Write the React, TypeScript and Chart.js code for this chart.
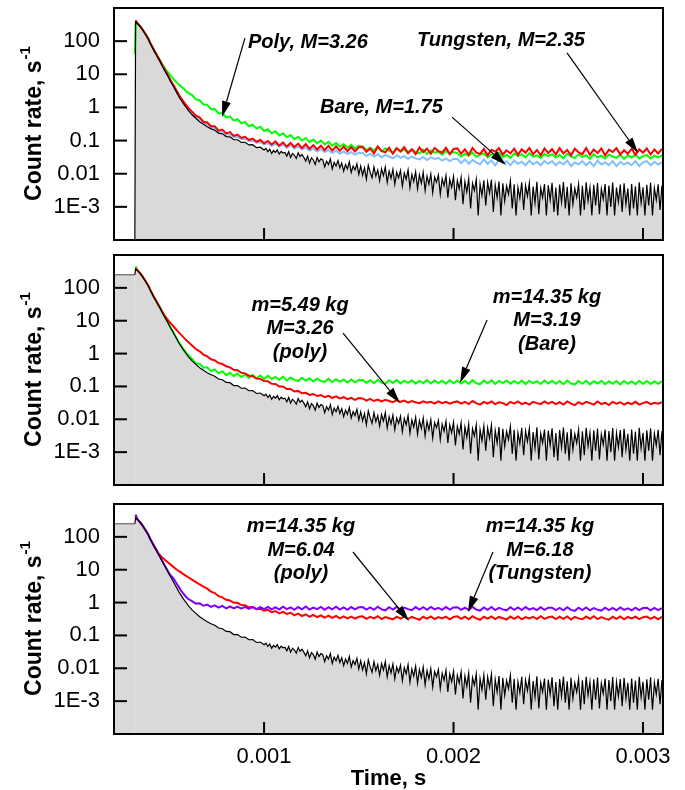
import React, { useEffect, useRef } from 'react';
import { Chart, registerables } from 'chart.js';

Chart.register(...registerables);

const FONT = '"Liberation Sans", Arial, Helvetica, sans-serif';
Chart.defaults.font.family = FONT;

// ---------- data (time in microseconds, count rate in 1/s) ----------
const TIME_US = [
  318, 322, 330, 340, 350, 360, 370, 380, 390, 400, 410, 420, 430, 440, 450, 460, 470, 480, 490, 500, 510, 520, 530, 540, 550, 560, 570, 580, 590, 600,
  620, 640, 660, 680, 700, 720, 740, 760, 780, 800, 820, 840, 860, 880, 900, 920, 940, 960, 980, 1000,
  1020, 1040, 1060, 1080, 1100, 1120, 1140, 1160, 1180, 1200, 1220, 1240, 1260, 1280, 1300, 1320, 1340, 1360, 1380, 1400, 1420, 1440, 1460, 1480, 1500,
  1520, 1540, 1560, 1580, 1600, 1620, 1640, 1660, 1680, 1700, 1720, 1740, 1760, 1780, 1800, 1820, 1840, 1860, 1880, 1900, 1920, 1940, 1960, 1980, 2000,
  2020, 2040, 2060, 2080, 2100, 2120, 2140, 2160, 2180, 2200, 2220, 2240, 2260, 2280, 2300, 2320, 2340, 2360, 2380, 2400, 2420, 2440, 2460, 2480, 2500,
  2520, 2540, 2560, 2580, 2600, 2620, 2640, 2660, 2680, 2700, 2720, 2740, 2760, 2780, 2800, 2820, 2840, 2860, 2880, 2900, 2920, 2940, 2960, 2980, 3000,
  3020, 3040, 3060, 3080, 3100,
];

// background measurement has a finer time grid in its noisy tail
const BG_TIME_US = [
  318, 322, 330, 340, 350, 360, 370, 380, 390, 400, 410, 420, 430, 440, 450, 460, 470, 480, 490, 500, 510, 520, 530, 540, 550, 560, 570, 580, 590, 600,
  620, 640, 660, 680, 700, 720, 740, 760, 780, 800, 820, 840, 860, 880, 900, 920, 940, 960, 980, 1000,
  1010, 1020, 1030, 1040, 1050, 1060, 1070, 1080, 1090, 1100,
  1110, 1120, 1130, 1140, 1150, 1160, 1170, 1180, 1190, 1200,
  1210, 1220, 1230, 1240, 1250, 1260, 1270, 1280, 1290, 1300,
  1310, 1320, 1330, 1340, 1350, 1360, 1370, 1380, 1390, 1400,
  1410, 1420, 1430, 1440, 1450, 1460, 1470, 1480, 1490, 1500,
  1510, 1520, 1530, 1540, 1550, 1560, 1570, 1580, 1590, 1600,
  1610, 1620, 1630, 1640, 1650, 1660, 1670, 1680, 1690, 1700,
  1710, 1720, 1730, 1740, 1750, 1760, 1770, 1780, 1790, 1800,
  1810, 1820, 1830, 1840, 1850, 1860, 1870, 1880, 1890, 1900,
  1910, 1920, 1930, 1940, 1950, 1960, 1970, 1980, 1990, 2000,
  2010, 2020, 2030, 2040, 2050, 2060, 2070, 2080, 2090, 2100,
  2110, 2120, 2130, 2140, 2150, 2160, 2170, 2180, 2190, 2200,
  2210, 2220, 2230, 2240, 2250, 2260, 2270, 2280, 2290, 2300,
  2310, 2320, 2330, 2340, 2350, 2360, 2370, 2380, 2390, 2400,
  2410, 2420, 2430, 2440, 2450, 2460, 2470, 2480, 2490, 2500,
  2510, 2520, 2530, 2540, 2550, 2560, 2570, 2580, 2590, 2600,
  2610, 2620, 2630, 2640, 2650, 2660, 2670, 2680, 2690, 2700,
  2710, 2720, 2730, 2740, 2750, 2760, 2770, 2780, 2790, 2800,
  2810, 2820, 2830, 2840, 2850, 2860, 2870, 2880, 2890, 2900,
  2910, 2920, 2930, 2940, 2950, 2960, 2970, 2980, 2990, 3000,
  3010, 3020, 3030, 3040, 3050, 3060, 3070, 3080, 3090, 3100,
];

// reference (background) measurement, black curve with grey area
const BACKGROUND = [
  250, 380, 347, 302, 257, 214, 174, 141, 112, 83, 65, 50, 40, 31, 25, 19, 15, 11.7, 9.3, 7.2, 5.6, 4.5, 3.5, 2.75, 2.14, 1.74, 1.41, 1.17, 0.98, 0.81,
  0.60, 0.47, 0.37, 0.31, 0.262, 0.226, 0.204, 0.168, 0.16, 0.132, 0.13, 0.106, 0.106, 0.088, 0.089, 0.074, 0.075, 0.061, 0.063, 0.052,
  0.058, 0.046, 0.055, 0.041, 0.05, 0.044, 0.052, 0.039, 0.047, 0.042,
  0.044, 0.034, 0.046, 0.031, 0.041, 0.036, 0.029, 0.043, 0.033, 0.038,
  0.031, 0.024, 0.034, 0.021, 0.03, 0.026, 0.019, 0.031, 0.023, 0.028,
  0.026, 0.016, 0.024, 0.019, 0.028, 0.014, 0.022, 0.017, 0.025, 0.015,
  0.021, 0.012, 0.019, 0.014, 0.023, 0.011, 0.017, 0.013, 0.02, 0.0095,
  0.017, 0.009, 0.015, 0.0068, 0.018, 0.011, 0.0075, 0.016, 0.0085, 0.013,
  0.0062, 0.014, 0.0088, 0.016, 0.0055, 0.012, 0.0072, 0.0135, 0.0048, 0.011,
  0.0075, 0.0125, 0.0042, 0.0105, 0.0068, 0.013, 0.0038, 0.0095, 0.0058, 0.0115,
  0.0035, 0.0092, 0.0052, 0.011, 0.0031, 0.0085, 0.0048, 0.0098, 0.0027, 0.0079,
  0.0055, 0.0092, 0.0024, 0.0071, 0.0043, 0.0088, 0.0019, 0.0068, 0.0039, 0.0082,
  0.0016, 0.0062, 0.0035, 0.0078, 0.0012, 0.0058, 0.0028, 0.0071, 0.0009, 0.0052,
  0.0031, 0.0068, 0.00055, 0.0049, 0.0022, 0.0063, 0.0011, 0.0055, 0.0026, 0.0066,
  0.0007, 0.0046, 0.0019, 0.0058, 0.00055, 0.0051, 0.0015, 0.0043, 0.0024, 0.0061,
  0.0009, 0.0048, 0.00055, 0.0039, 0.0018, 0.0055, 0.0008, 0.0044, 0.0021, 0.0052,
  0.00055, 0.0041, 0.0013, 0.0057, 0.0006, 0.0037, 0.0019, 0.0049, 0.00055, 0.0045,
  0.0016, 0.0053, 0.0007, 0.0038, 0.00055, 0.0047, 0.0014, 0.0056, 0.0009, 0.004,
  0.00055, 0.0051, 0.0012, 0.0036, 0.0019, 0.0048, 0.00055, 0.0043, 0.0008, 0.0055,
  0.0015, 0.0039, 0.00055, 0.0046, 0.0011, 0.0052, 0.0006, 0.0035, 0.0017, 0.0049,
  0.00055, 0.0044, 0.001, 0.0054, 0.00055, 0.0038, 0.0014, 0.0047, 0.0007, 0.0051,
  0.0012, 0.0036, 0.00055, 0.0049, 0.0009, 0.0042, 0.00055, 0.0055, 0.0013, 0.0039,
  0.00055, 0.0046, 0.0011, 0.0053, 0.00055, 0.0037, 0.0016, 0.0048, 0.0008, 0.0044,
];

// panel 1
const P1_TUNGSTEN = [
  null, 430, 360, 310, 265, 220, 180, 146, 116, 87, 68, 53, 42, 33, 26, 20, 16, 12.5, 10, 7.8, 6.1, 4.9, 3.9, 3.1, 2.45, 2.0, 1.65, 1.38, 1.15, 0.97,
  0.75, 0.56, 0.5, 0.37, 0.35, 0.27, 0.27, 0.2, 0.215, 0.165, 0.18, 0.138, 0.152, 0.12, 0.13, 0.104, 0.115, 0.092, 0.104, 0.083,
  0.097, 0.076, 0.094, 0.07, 0.088, 0.066, 0.085, 0.064, 0.081, 0.059, 0.078, 0.056, 0.073, 0.054, 0.07, 0.051, 0.069, 0.05, 0.067, 0.049, 0.066, 0.048, 0.064, 0.047, 0.063,
  0.064, 0.046, 0.058, 0.041, 0.066, 0.049, 0.044, 0.061, 0.04, 0.059, 0.047, 0.063, 0.042, 0.055, 0.039, 0.062, 0.045, 0.057, 0.04, 0.06, 0.048, 0.043, 0.061, 0.039, 0.056,
  0.058, 0.04, 0.054, 0.037, 0.06, 0.044, 0.039, 0.056, 0.036, 0.053, 0.046, 0.059, 0.038, 0.051, 0.041, 0.057, 0.037, 0.055, 0.043, 0.06, 0.039, 0.052, 0.036, 0.058, 0.042,
  0.055, 0.038, 0.059, 0.041, 0.052, 0.036, 0.057, 0.044, 0.039, 0.06, 0.037, 0.054, 0.042, 0.058, 0.036, 0.053, 0.045, 0.059, 0.038, 0.051, 0.04, 0.057, 0.037, 0.055, 0.043,
  0.058, 0.038, 0.054, 0.041, 0.056,
];
const P1_POLY = [
  40, 330, 350, 305, 260, 217, 177, 143, 114, 86, 67, 52, 42, 33, 27, 21.5, 17.5, 14.3, 12, 10.2, 8.7, 7.4, 6.4, 5.6, 4.9, 4.4, 3.9, 3.45, 3.05, 2.75,
  2.35, 1.75, 1.65, 1.22, 1.2, 0.88, 0.9, 0.66, 0.68, 0.5, 0.54, 0.4, 0.44, 0.33, 0.36, 0.27, 0.3, 0.23, 0.26, 0.195,
  0.22, 0.165, 0.19, 0.142, 0.165, 0.126, 0.148, 0.11, 0.131, 0.1, 0.12, 0.09, 0.108, 0.083, 0.1, 0.076, 0.092, 0.07, 0.085, 0.065, 0.079, 0.061, 0.074, 0.057, 0.07,
  0.067, 0.052, 0.061, 0.05, 0.065, 0.047, 0.058, 0.049, 0.044, 0.059, 0.046, 0.055, 0.042, 0.054, 0.045, 0.041, 0.053, 0.039, 0.05, 0.043, 0.047, 0.037, 0.049, 0.04, 0.045,
  0.042, 0.033, 0.04, 0.035, 0.044, 0.032, 0.038, 0.041, 0.031, 0.039, 0.034, 0.043, 0.032, 0.037, 0.03, 0.041, 0.034, 0.039, 0.031, 0.042, 0.033, 0.036, 0.03, 0.04, 0.034,
  0.039, 0.031, 0.037, 0.029, 0.04, 0.033, 0.03, 0.038, 0.032, 0.036, 0.028, 0.039, 0.031, 0.035, 0.029, 0.038, 0.033, 0.03, 0.037, 0.028, 0.036, 0.031, 0.038, 0.029, 0.034,
  0.037, 0.029, 0.035, 0.031, 0.036,
];
const P1_BARE = [
  null, 390, 350, 305, 260, 216, 176, 143, 114, 85, 66, 51, 41, 32, 25.5, 19.5, 15.4, 12, 9.6, 7.5, 5.9, 4.7, 3.7, 2.95, 2.3, 1.88, 1.55, 1.28, 1.07, 0.9,
  0.69, 0.52, 0.45, 0.35, 0.31, 0.25, 0.235, 0.19, 0.188, 0.153, 0.152, 0.129, 0.13, 0.111, 0.112, 0.097, 0.099, 0.086, 0.089, 0.077,
  0.083, 0.069, 0.079, 0.066, 0.076, 0.061, 0.071, 0.057, 0.066, 0.054, 0.062, 0.05, 0.058, 0.047, 0.055, 0.045, 0.052, 0.042, 0.05, 0.04, 0.047, 0.039, 0.045, 0.037, 0.043,
  0.042, 0.034, 0.04, 0.033, 0.039, 0.031, 0.037, 0.033, 0.029, 0.036, 0.03, 0.034, 0.028, 0.033, 0.029, 0.027, 0.032, 0.026, 0.031, 0.028, 0.03, 0.025, 0.029, 0.024, 0.028,
  0.028, 0.021, 0.027, 0.02, 0.026, 0.022, 0.019, 0.027, 0.02, 0.025, 0.018, 0.026, 0.021, 0.024, 0.018, 0.025, 0.02, 0.023, 0.018, 0.025, 0.019, 0.023, 0.018, 0.024, 0.02,
  0.024, 0.018, 0.023, 0.019, 0.025, 0.017, 0.022, 0.019, 0.024, 0.018, 0.023, 0.017, 0.025, 0.019, 0.022, 0.018, 0.024, 0.017, 0.023, 0.019, 0.022, 0.018, 0.024, 0.017, 0.022,
  0.024, 0.018, 0.023, 0.019, 0.022,
];

// panel 2
const P2_POLY = [
  null, 400, 350, 305, 260, 216, 176, 143, 114, 85, 66, 51, 41, 32, 25.5, 20, 16, 13, 11, 9.3, 8, 6.9, 5.9, 5.1, 4.4, 3.85, 3.35, 2.9, 2.55, 2.25,
  1.77, 1.38, 1.17, 0.93, 0.82, 0.67, 0.62, 0.51, 0.48, 0.41, 0.38, 0.32, 0.31, 0.26, 0.25, 0.212, 0.205, 0.174, 0.17, 0.145,
  0.143, 0.12, 0.119, 0.099, 0.1, 0.083, 0.084, 0.07, 0.073, 0.062, 0.064, 0.055, 0.059, 0.051, 0.055, 0.047, 0.052, 0.045, 0.05, 0.043, 0.047, 0.041, 0.045, 0.039, 0.044,
  0.043, 0.037, 0.042, 0.036, 0.04, 0.035, 0.039, 0.036, 0.033, 0.038, 0.034, 0.037, 0.032, 0.036, 0.033, 0.031, 0.035, 0.032, 0.034, 0.03, 0.035, 0.031, 0.034, 0.03, 0.033,
  0.035, 0.03, 0.034, 0.029, 0.036, 0.031, 0.028, 0.034, 0.03, 0.035, 0.029, 0.033, 0.031, 0.027, 0.034, 0.03, 0.035, 0.029, 0.032, 0.028, 0.034, 0.031, 0.029, 0.035, 0.03,
  0.034, 0.029, 0.033, 0.028, 0.035, 0.03, 0.027, 0.033, 0.029, 0.034, 0.031, 0.028, 0.035, 0.029, 0.032, 0.027, 0.034, 0.03, 0.033, 0.028, 0.032, 0.029, 0.034, 0.028, 0.031,
  0.034, 0.029, 0.032, 0.03, 0.033,
];
const P2_BARE = [
  null, 460, 352, 304, 258, 215, 175, 142, 113, 84, 65.5, 50.5, 40.5, 31.5, 25.2, 19.3, 15.2, 11.9, 9.4, 7.3, 5.7, 4.55, 3.55, 2.8, 2.2, 1.8, 1.5, 1.25, 1.05, 0.9,
  0.7, 0.5, 0.49, 0.37, 0.38, 0.29, 0.33, 0.25, 0.29, 0.22, 0.26, 0.205, 0.245, 0.19, 0.235, 0.182, 0.225, 0.175, 0.215, 0.17,
  0.21, 0.168, 0.196, 0.16, 0.2, 0.152, 0.186, 0.158, 0.146, 0.183, 0.15, 0.177, 0.142, 0.174, 0.145, 0.138, 0.17, 0.136, 0.165, 0.14, 0.161, 0.131, 0.163, 0.133, 0.157,
  0.158, 0.128, 0.155, 0.125, 0.16, 0.13, 0.12, 0.153, 0.127, 0.157, 0.124, 0.15, 0.129, 0.155, 0.122, 0.148, 0.127, 0.156, 0.123, 0.152, 0.126, 0.149, 0.121, 0.154, 0.125,
  0.151, 0.122, 0.148, 0.12, 0.155, 0.125, 0.118, 0.15, 0.124, 0.153, 0.119, 0.147, 0.126, 0.152, 0.12, 0.146, 0.123, 0.15, 0.118, 0.149, 0.124, 0.145, 0.119, 0.151, 0.122,
  0.148, 0.12, 0.146, 0.117, 0.151, 0.122, 0.115, 0.147, 0.121, 0.149, 0.116, 0.144, 0.123, 0.148, 0.117, 0.143, 0.12, 0.147, 0.115, 0.146, 0.121, 0.142, 0.116, 0.148, 0.119,
  0.146, 0.118, 0.143, 0.12, 0.145,
];

// panel 3
const P3_POLY = [
  null, 480, 352, 305, 260, 217, 177, 144, 115, 86, 68, 53, 43, 33, 28, 24.5, 21.5, 19.2, 17.2, 15.4, 13.8, 12.4, 11.1, 10, 9.1, 8.4, 7.6, 7.0, 6.4, 5.9,
  5.0, 4.2, 3.55, 3.05, 2.65, 2.15, 1.95, 1.56, 1.44, 1.21, 1.16, 0.98, 0.98, 0.84, 0.83, 0.72, 0.73, 0.63, 0.65, 0.57,
  0.6, 0.51, 0.55, 0.47, 0.52, 0.45, 0.49, 0.41, 0.46, 0.39, 0.44, 0.37, 0.42, 0.36, 0.41, 0.35, 0.4, 0.34, 0.39, 0.33, 0.38, 0.33, 0.375, 0.325, 0.37,
  0.38, 0.32, 0.37, 0.33, 0.385, 0.315, 0.36, 0.335, 0.31, 0.375, 0.325, 0.38, 0.32, 0.365, 0.33, 0.3, 0.37, 0.325, 0.38, 0.315, 0.36, 0.33, 0.375, 0.31, 0.365,
  0.38, 0.32, 0.37, 0.31, 0.385, 0.33, 0.3, 0.37, 0.325, 0.38, 0.315, 0.365, 0.335, 0.305, 0.375, 0.32, 0.38, 0.31, 0.36, 0.33, 0.37, 0.315, 0.385, 0.32, 0.36,
  0.375, 0.315, 0.37, 0.32, 0.38, 0.305, 0.365, 0.33, 0.31, 0.375, 0.32, 0.385, 0.315, 0.36, 0.325, 0.3, 0.37, 0.32, 0.38, 0.31, 0.365, 0.33, 0.375, 0.315, 0.36,
  0.375, 0.32, 0.365, 0.31, 0.37,
];
const P3_TUNGSTEN = [
  null, 460, 350, 304, 259, 215, 175, 142, 113, 84, 66, 51, 41, 32, 25.5, 19.6, 15.5, 12.2, 9.7, 7.6, 6.5, 5.6, 4.6, 3.7, 3.0, 2.4, 2.0, 1.7, 1.45, 1.28,
  1.1, 0.93, 0.95, 0.8, 0.87, 0.74, 0.82, 0.7, 0.79, 0.67, 0.76, 0.66, 0.75, 0.65, 0.74, 0.64, 0.74, 0.63, 0.73, 0.63,
  0.74, 0.62, 0.72, 0.61, 0.75, 0.63, 0.71, 0.6, 0.73, 0.62, 0.76, 0.61, 0.7, 0.63, 0.74, 0.6, 0.72, 0.62, 0.75, 0.61, 0.71, 0.6, 0.73, 0.62, 0.72,
  0.73, 0.61, 0.71, 0.6, 0.75, 0.62, 0.58, 0.72, 0.61, 0.74, 0.6, 0.7, 0.63, 0.59, 0.73, 0.61, 0.72, 0.6, 0.74, 0.62, 0.69, 0.6, 0.73, 0.61, 0.71,
  0.72, 0.6, 0.7, 0.59, 0.74, 0.61, 0.57, 0.71, 0.6, 0.73, 0.59, 0.69, 0.62, 0.58, 0.72, 0.6, 0.71, 0.59, 0.73, 0.61, 0.68, 0.59, 0.72, 0.6, 0.7,
  0.7, 0.59, 0.69, 0.58, 0.72, 0.6, 0.56, 0.7, 0.59, 0.71, 0.58, 0.68, 0.61, 0.57, 0.7, 0.59, 0.69, 0.58, 0.71, 0.6, 0.67, 0.58, 0.7, 0.59, 0.68,
  0.7, 0.58, 0.69, 0.59, 0.68,
];

// flat pre-trigger level shown in panels 2 and 3
const PRE_TRIGGER_US = [200, 318];
const PRE_TRIGGER_LEVEL = [250, 250];

// axes
const X_MIN = 0.000208;
const X_MAX = 0.0031055;
const X_STEP = 0.0005;
const X_TICK_VALUES = [0.001, 0.002, 0.003];
const X_TICK_LABELS = ['0.001', '0.002', '0.003'];
const Y_MIN = 1e-4;
const Y_MAX = 1e3;
const Y_TICK_VALUES = [100, 10, 1, 0.1, 0.01, 0.001];
const Y_TICK_LABELS = ['100', '10', '1', '0.1', '0.01', '1E-3'];

// annotations: text anchor (µs, value), arrow from -> to (µs, value)
type Note = { lines: string[]; t: number; v: number; align: 'left' | 'center'; from: [number, number]; to: [number, number] };
const NOTES_1: Note[] = [
  { lines: ['Poly, M=3.26'], t: 915, v: 94, align: 'left', from: [899, 124], to: [778, 0.51] },
  { lines: ['Tungsten, M=2.35'], t: 1807, v: 108, align: 'left', from: [2599, 44], to: [2974, 0.042] },
  { lines: ['Bare, M=1.75'], t: 1295, v: 1.03, align: 'left', from: [1992, 0.51], to: [2277, 0.0183] },
];
const NOTES_2: Note[] = [
  { lines: ['m=5.49 kg', 'M=3.26', '(poly)'], t: 1190, v: 30, align: 'center', from: [1417, 4.2], to: [1717, 0.0313] },
  { lines: ['m=14.35 kg', 'M=3.19', '(Bare)'], t: 2493, v: 52.7, align: 'center', from: [2177, 10.5], to: [2034, 0.127] },
];
const NOTES_3: Note[] = [
  { lines: ['m=14.35 kg', 'M=6.04', '(poly)'], t: 1195, v: 200, align: 'center', from: [1469, 34.6], to: [1765, 0.275] },
  { lines: ['m=14.35 kg', 'M=6.18', '(Tungsten)'], t: 2456, v: 200, align: 'center', from: [2208, 34.6], to: [2076, 0.516] },
];

const GRAY = '#d9d9d9';
const RED = '#ff0000';
const GREEN = '#00ff00';
const BLUE = '#80c0ff';
const PURPLE = '#8000ff';

const toPoints = (ts: number[], ys: (number | null)[]) => ts.map((t, i) => ({ x: t * 1e-6, y: ys[i] }));

function line(vals: (number | null)[], color: string, width = 1.4, extra: any = {}) {
  return {
    data: toPoints(TIME_US, vals),
    borderColor: color,
    borderWidth: width,
    pointRadius: 0,
    fill: false,
    spanGaps: false,
    ...extra,
  };
}

function backgroundSet(firstAtFloor: boolean) {
  const vals = BACKGROUND.map((v, i) => (i === 0 && firstAtFloor ? Y_MIN : v));
  return {
    data: toPoints(BG_TIME_US, vals),
    borderColor: '#000',
    borderWidth: 1.2,
    pointRadius: 0,
    fill: 'start',
    backgroundColor: GRAY,
  };
}

function preTriggerSet() {
  return {
    data: toPoints(PRE_TRIGGER_US, PRE_TRIGGER_LEVEL),
    borderColor: '#5a4646',
    borderWidth: 1,
    pointRadius: 0,
    fill: 'start',
    backgroundColor: GRAY,
  };
}

function drawArrow(ctx: CanvasRenderingContext2D, x1: number, y1: number, x2: number, y2: number) {
  const a = Math.atan2(y2 - y1, x2 - x1);
  const L = 16;
  const W = 4.5;
  const bx = x2 - L * Math.cos(a);
  const by = y2 - L * Math.sin(a);
  ctx.beginPath();
  ctx.moveTo(x1, y1);
  ctx.lineTo(bx, by);
  ctx.lineWidth = 1.2;
  ctx.strokeStyle = '#000';
  ctx.stroke();
  ctx.beginPath();
  ctx.moveTo(x2, y2);
  ctx.lineTo(bx + W * Math.sin(a), by - W * Math.cos(a));
  ctx.lineTo(bx - W * Math.sin(a), by + W * Math.cos(a));
  ctx.closePath();
  ctx.fillStyle = '#000';
  ctx.fill();
}

const decorPlugin = {
  id: 'decor',
  afterDatasetsDraw(chart: any, _args: any, opts: any) {
    const ctx: CanvasRenderingContext2D = chart.ctx;
    const { left, right, top, bottom } = chart.chartArea;
    const xs = chart.scales.x;
    const ys = chart.scales.y;
    ctx.save();

    // annotations
    const notes: Note[] = opts.notes || [];
    for (const n of notes) {
      const px = xs.getPixelForValue(n.t * 1e-6);
      const py = ys.getPixelForValue(n.v);
      ctx.font = `italic bold 20px ${FONT}`;
      ctx.fillStyle = '#000';
      ctx.textAlign = n.align;
      ctx.textBaseline = 'middle';
      n.lines.forEach((l, k) => ctx.fillText(l, px, py + k * 23.5));
      drawArrow(
        ctx,
        xs.getPixelForValue(n.from[0] * 1e-6),
        ys.getPixelForValue(n.from[1]),
        xs.getPixelForValue(n.to[0] * 1e-6),
        ys.getPixelForValue(n.to[1])
      );
    }

    // frame
    ctx.strokeStyle = '#000';
    ctx.lineWidth = 2;
    ctx.strokeRect(left, top, right - left, bottom - top);

    // inward y ticks
    for (const tk of ys.ticks) {
      const v = tk.value;
      const py = ys.getPixelForValue(v);
      if (py < top + 1.5 || py > bottom - 1.5) continue;
      const lg = Math.log10(v);
      const major = Math.abs(lg - Math.round(lg)) < 1e-6;
      ctx.beginPath();
      ctx.lineWidth = 2;
      ctx.moveTo(left, py);
      ctx.lineTo(left + (major ? 13 : 7), py);
      ctx.stroke();
    }
    // inward x ticks
    for (const tk of xs.ticks) {
      const px = xs.getPixelForValue(tk.value);
      if (px < left + 1.5 || px > right - 1.5) continue;
      const major = X_TICK_VALUES.some((v) => Math.abs(v - tk.value) < 1e-9);
      ctx.beginPath();
      ctx.lineWidth = 2;
      ctx.moveTo(px, bottom);
      ctx.lineTo(px, bottom - (major ? 12 : 7));
      ctx.stroke();
    }

    // y-axis title with superscript
    ctx.translate(41, (top + bottom) / 2);
    ctx.rotate(-Math.PI / 2);
    ctx.fillStyle = '#000';
    ctx.textAlign = 'left';
    ctx.textBaseline = 'alphabetic';
    const main = 'Count rate, s';
    const sup = '-1';
    ctx.font = `bold 23px ${FONT}`;
    const w1 = ctx.measureText(main).width;
    ctx.font = `bold 15px ${FONT}`;
    const w2 = ctx.measureText(sup).width;
    const x0 = -(w1 + w2) / 2;
    ctx.font = `bold 23px ${FONT}`;
    ctx.fillText(main, x0, 0);
    ctx.font = `bold 15px ${FONT}`;
    ctx.fillText(sup, x0 + w1 + 1, -11);
    ctx.restore();
  },
};

type PanelCfg = {
  top: number;
  height: number;
  padTop: number;
  xHeight: number;
  showX: boolean;
  datasets: any[];
  notes: Note[];
};

function labelFor(values: number[], labels: string[], v: number, log: boolean) {
  const i = values.findIndex((t) => (log ? Math.abs(Math.log10(t) - Math.log10(v)) < 1e-6 : Math.abs(t - v) < 1e-9));
  return i >= 0 ? labels[i] : null;
}

function zeroPadding(s: any) {
  s.paddingTop = 0;
  s.paddingBottom = 0;
  s.paddingLeft = 0;
  s.paddingRight = 0;
}

function Panel({ cfg }: { cfg: PanelCfg }) {
  const ref = useRef<HTMLCanvasElement>(null);
  useEffect(() => {
    const chart = new Chart(ref.current as HTMLCanvasElement, {
      type: 'line',
      data: { datasets: cfg.datasets },
      options: {
        animation: false,
        responsive: false,
        devicePixelRatio: 1,
        layout: { autoPadding: false, padding: { left: 0, right: 22, top: cfg.padTop, bottom: 0 } },
        plugins: {
          legend: { display: false },
          tooltip: { enabled: false },
          filler: { drawTime: 'beforeDatasetsDraw' },
          decor: { notes: cfg.notes },
        } as any,
        elements: { point: { radius: 0 }, line: { tension: 0 } },
        scales: {
          x: {
            type: 'linear',
            min: X_MIN,
            max: X_MAX,
            grid: { display: false, drawTicks: false },
            border: { display: false },
            ticks: {
              display: cfg.showX,
              stepSize: X_STEP,
              includeBounds: false,
              autoSkip: false,
              maxRotation: 0,
              padding: 10,
              color: '#000',
              font: { size: 22, family: FONT },
              callback: (v: any) => labelFor(X_TICK_VALUES, X_TICK_LABELS, Number(v), false),
            },
            title: {
              display: cfg.showX,
              text: 'Time, s',
              color: '#000',
              font: { size: 22, weight: 'bold', family: FONT, lineHeight: 1 },
              padding: 0,
            },
            afterFit: (s: any) => {
              s.height = cfg.xHeight;
              zeroPadding(s);
            },
          } as any,
          y: {
            type: 'logarithmic',
            bounds: 'data',
            min: Y_MIN,
            max: Y_MAX,
            grid: { display: false, drawTicks: false },
            border: { display: false },
            ticks: {
              autoSkip: false,
              padding: 14,
              color: '#000',
              font: { size: 22, family: FONT },
              callback: (v: any) => labelFor(Y_TICK_VALUES, Y_TICK_LABELS, Number(v), true),
            },
            afterFit: (s: any) => {
              s.width = 114;
              zeroPadding(s);
            },
          } as any,
        },
      },
      plugins: [decorPlugin as any],
    });
    return () => chart.destroy();
  }, []);
  return (
    <canvas
      ref={ref}
      width={685}
      height={cfg.height}
      style={{ position: 'absolute', left: 0, top: cfg.top, display: 'block' }}
    />
  );
}

const PANELS: PanelCfg[] = [
  {
    top: 0,
    height: 248,
    padTop: 8,
    xHeight: 8,
    showX: false,
    datasets: [
      backgroundSet(true),
      line(P1_TUNGSTEN, RED, 2),
      line(P1_POLY, GREEN, 2),
      line(P1_BARE, BLUE, 2),
    ],
    notes: NOTES_1,
  },
  {
    top: 248,
    height: 247,
    padTop: 7,
    xHeight: 10,
    showX: false,
    datasets: [
      backgroundSet(false),
      line(P2_POLY, RED, 2),
      line(P2_BARE, GREEN, 2),
      preTriggerSet(),
    ],
    notes: NOTES_2,
  },
  {
    top: 495,
    height: 295,
    padTop: 9,
    xHeight: 56,
    showX: true,
    datasets: [
      backgroundSet(false),
      line(P3_TUNGSTEN, PURPLE, 2),
      line(P3_POLY, RED, 2),
      preTriggerSet(),
    ],
    notes: NOTES_3,
  },
];

export default function App() {
  return (
    <div style={{ position: 'absolute', left: 0, top: 0, width: 685, height: 790, background: '#fff' }}>
      {PANELS.map((p, i) => (
        <Panel key={i} cfg={p} />
      ))}
    </div>
  );
}
